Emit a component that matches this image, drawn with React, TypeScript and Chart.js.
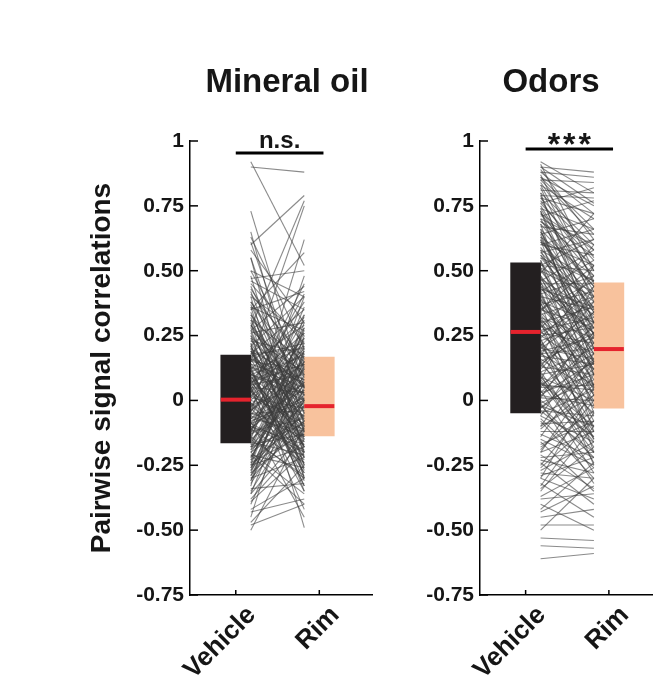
import { useEffect, useRef } from "react";
import { Chart, registerables } from "chart.js";

Chart.register(...registerables);
Chart.defaults.font.family = "'Liberation Sans', Arial, Helvetica, sans-serif";

const GROUPS = ["Vehicle", "Rim"];
const Y_TICKS = [-0.75, -0.5, -0.25, 0, 0.25, 0.5, 0.75, 1];
const Y_TICK_LABELS = ["-0.75", "-0.50", "-0.25", "0", "0.25", "0.50", "0.75", "1"];
const Y_TITLE = "Pairwise signal correlations";
const PANEL_TITLES = ["Mineral oil", "Odors"];
const SIGNIFICANCE = ["n.s.", "***"];

// box stats: [q1, median, q3]
const MO_BOX_VEHICLE = [-0.164, 0.003, 0.175];
const MO_BOX_RIM = [-0.137, -0.022, 0.167];
const OD_BOX_VEHICLE = [-0.048, 0.264, 0.53];
const OD_BOX_RIM = [-0.03, 0.198, 0.453];

// paired values (vehicle -> rim)
const MO_VEHICLE = [
  0.92, 0.9, 0.73, 0.65, 0.63, 0.61, 0.58, 0.55, 0.5, 0.48,
  0.46, 0.44, 0.42, 0.4, 0.38, 0.36, 0.35, 0.33, 0.31, 0.3,
  0.29, 0.27, 0.26, 0.25, 0.24, 0.23, 0.22, 0.21, 0.2, 0.19,
  0.18, 0.17, 0.16, 0.15, 0.14, 0.13, 0.12, 0.11, 0.1, 0.1,
  0.09, 0.08, 0.07, 0.06, 0.05, 0.05, 0.04, 0.03, 0.02, 0.01,
  0.0, -0.01, -0.02, -0.03, -0.04, -0.05, -0.06, -0.07, -0.08, -0.09,
  -0.1, -0.11, -0.12, -0.13, -0.14, -0.15, -0.16, -0.17, -0.18, -0.19,
  -0.2, -0.21, -0.22, -0.23, -0.24, -0.25, -0.26, -0.27, -0.28, -0.29,
  -0.3, -0.31, -0.32, -0.34, -0.36, -0.38, -0.4, -0.43, -0.45, -0.48,
  -0.5, -0.47, 0.6, 0.28, 0.15, -0.05, 0.35, -0.12, 0.22, 0.05,
  -0.2, 0.4, 0.12, -0.08, 0.5, 0.45, 0.32, 0.18, -0.15, -0.25,
  0.08, -0.02, 0.03, -0.09, 0.2, -0.18, 0.26, 0.13, -0.11, 0.07,
  -0.06, 0.16, -0.22, 0.38, -0.3, 0.1, -0.14, 0.0, 0.24, -0.04,
  -0.16, 0.06, -0.27, 0.29, -0.1, 0.14, -0.35, 0.43, -0.01, 0.19,
  -0.19, 0.09, -0.07, 0.02, -0.24, 0.33, -0.13, 0.11, -0.39, 0.55,
  -0.42, 0.04, -0.33, 0.47, -0.21, 0.27, -0.03, 0.21, -0.28, 0.17,
  0.34, -0.17, 0.08, 0.23, -0.26, 0.01, 0.37, -0.09, 0.15, -0.31,
  0.12, -0.04, 0.28, -0.2, 0.06, 0.41, -0.12, 0.19, -0.36, 0.03,
  0.25, -0.07, 0.1, -0.23, 0.31, -0.15, 0.16, -0.02, 0.21, -0.29,
  0.07, -0.11, 0.36, -0.18, 0.13, -0.05, 0.27, -0.25, 0.04, 0.18,
];
const MO_RIM = [
  0.52, 0.88, 0.05, -0.1, 0.2, 0.02, 0.3, -0.05, 0.12, -0.2,
  0.35, 0.0, -0.12, 0.25, 0.1, -0.25, 0.42, -0.05, 0.15, -0.3,
  0.05, -0.15, 0.3, 0.0, -0.2, 0.18, -0.08, 0.4, -0.35, 0.08,
  -0.02, 0.22, -0.18, 0.12, -0.1, 0.05, 0.32, -0.22, 0.0, 0.17,
  -0.06, 0.26, -0.14, 0.1, -0.28, 0.03, 0.45, -0.09, 0.14, -0.03,
  0.2, -0.16, 0.06, -0.24, 0.11, -0.04, 0.28, -0.12, 0.01, 0.16,
  -0.2, 0.07, -0.07, 0.36, -0.3, 0.02, 0.12, -0.13, 0.22, -0.02,
  0.08, -0.26, 0.15, -0.08, 0.3, -0.18, 0.04, 0.19, -0.11, 0.1,
  -0.22, 0.25, 0.0, -0.32, 0.14, -0.15, 0.05, -0.38, 0.2, -0.4,
  -0.1, -0.25, 0.79, 0.77, 0.75, 0.62, 0.57, 0.48, -0.49, -0.42,
  -0.36, -0.3, -0.33, -0.45, 0.4, 0.22, -0.18, 0.35, 0.4, -0.05,
  -0.12, -0.2, 0.24, 0.0, 0.06, -0.09, -0.11, -0.04, 0.09, 0.18,
  -0.14, 0.02, 0.13, 0.05, -0.08, -0.26, 0.27, -0.06, 0.11, 0.15,
  -0.21, 0.38, 0.01, -0.01, -0.17, 0.07, -0.02, 0.13, -0.23, -0.07,
  0.17, -0.15, 0.04, -0.1, -0.13, 0.09, -0.01, 0.21, -0.2, -0.22,
  -0.3, -0.35, 0.33, 0.5, -0.4, 0.44, 0.31, -0.27, 0.18, -0.03,
  -0.12, 0.24, -0.28, 0.05, 0.15, 0.33, -0.08, -0.19, 0.29, 0.07,
  -0.31, 0.19, 0.02, -0.06, -0.22, 0.16, 0.26, -0.16, -0.12, 0.41,
  -0.25, 0.12, 0.03, 0.21, -0.14, -0.29, 0.08, 0.23, -0.18, 0.0,
  0.14, -0.24, 0.27, 0.06, -0.33, -0.11, 0.1, 0.28, -0.17, 0.2,
];

const OD_VEHICLE = [
  0.92, 0.9, 0.89, 0.88, 0.87, 0.86, 0.85, 0.84, 0.83, 0.82,
  0.81, 0.8, 0.79, 0.78, 0.77, 0.76, 0.75, 0.74, 0.73, 0.72,
  0.71, 0.7, 0.69, 0.68, 0.67, 0.66, 0.65, 0.64, 0.63, 0.62,
  0.61, 0.6, 0.59, 0.58, 0.57, 0.56, 0.55, 0.54, 0.53, 0.52,
  0.51, 0.5, 0.49, 0.48, 0.47, 0.46, 0.45, 0.44, 0.43, 0.42,
  0.41, 0.4, 0.39, 0.38, 0.37, 0.36, 0.35, 0.34, 0.33, 0.32,
  0.31, 0.3, 0.29, 0.28, 0.27, 0.26, 0.25, 0.24, 0.23, 0.22,
  0.21, 0.2, 0.19, 0.18, 0.17, 0.16, 0.15, 0.14, 0.13, 0.12,
  0.11, 0.1, 0.09, 0.08, 0.07, 0.06, 0.05, 0.04, 0.03, 0.02,
  0.01, 0.0, -0.01, -0.02, -0.03, -0.04, -0.06, -0.08, -0.1, -0.12,
  -0.14, -0.16, -0.18, -0.2, -0.22, -0.24, -0.26, -0.28, -0.3, -0.32,
  -0.34, -0.37, -0.4, -0.43, -0.45, -0.5, -0.53, -0.56, -0.61, -0.48,
  0.91, 0.86, 0.8, 0.74, 0.7, 0.66, 0.62, 0.58, 0.54, 0.5,
  0.46, 0.42, 0.38, 0.34, 0.3, 0.26, 0.22, 0.18, 0.14, 0.1,
  0.06, 0.02, -0.02, -0.06, -0.1, -0.15, -0.2, -0.25, -0.3, -0.35,
  0.88, 0.83, 0.78, 0.73, 0.68, 0.63, 0.57, 0.52, 0.47, 0.43,
  0.39, 0.35, 0.31, 0.27, 0.23, 0.19, 0.15, 0.11, 0.07, 0.03,
  -0.01, -0.05, -0.09, -0.13, -0.19, -0.23, -0.27, -0.33, -0.38, -0.42,
  0.85, 0.79, 0.72, 0.69, 0.65, 0.61, 0.56, 0.51, 0.48, 0.44,
  0.41, 0.37, 0.33, 0.29, 0.25, 0.21, 0.17, 0.13, 0.09, 0.05,
  0.01, -0.03, -0.07, -0.11, -0.17, -0.21, -0.29, 0.9, 0.76, 0.6,
  0.45, 0.32, 0.2, 0.08, -0.04, 0.55, 0.4, 0.24, 0.64, 0.35,
];
const OD_RIM = [
  0.8, 0.88, 0.62, 0.86, 0.45, 0.75, 0.84, 0.55, 0.7, 0.38,
  0.8, 0.6, 0.3, 0.72, 0.5, 0.82, 0.42, 0.66, 0.2, 0.58,
  0.77, 0.35, 0.52, 0.1, 0.64, 0.44, 0.25, 0.7, 0.48, 0.05,
  0.4, 0.56, 0.3, 0.15, 0.62, 0.36, 0.46, -0.05, 0.28, 0.5,
  0.18, 0.4, 0.72, 0.22, 0.33, -0.12, 0.45, 0.12, 0.26, 0.54,
  0.02, 0.35, 0.2, -0.2, 0.42, 0.15, 0.28, 0.6, 0.08, 0.24,
  -0.08, 0.36, 0.18, 0.48, 0.0, 0.22, 0.12, -0.25, 0.3, 0.05,
  0.4, 0.16, -0.15, 0.2, 0.52, 0.03, 0.26, -0.05, 0.1, 0.34,
  -0.18, 0.14, 0.0, 0.44, -0.1, 0.18, 0.06, -0.28, 0.22, -0.02,
  0.3, -0.14, 0.08, -0.22, 0.12, -0.06, 0.25, -0.3, 0.02, -0.12,
  0.15, -0.35, -0.04, 0.1, -0.2, -0.4, -0.08, -0.3, 0.05, -0.45,
  -0.18, -0.26, -0.5, -0.33, -0.42, -0.3, -0.54, -0.57, -0.59, -0.48,
  0.5, 0.66, 0.25, 0.4, 0.6, 0.14, 0.34, 0.46, 0.1, 0.24,
  0.58, -0.02, 0.3, 0.1, -0.15, 0.38, -0.1, 0.06, 0.28, -0.24,
  0.04, 0.15, -0.1, -0.16, 0.18, -0.25, -0.12, 0.0, -0.38, -0.1,
  0.72, 0.46, 0.58, 0.3, 0.44, 0.22, 0.38, 0.62, 0.18, 0.36,
  0.04, 0.46, 0.14, 0.32, -0.03, 0.24, -0.12, 0.2, -0.2, 0.1,
  -0.32, 0.04, -0.08, -0.22, 0.02, -0.28, -0.16, -0.05, -0.36, -0.24,
  0.64, 0.78, 0.48, 0.56, 0.34, 0.52, 0.28, 0.42, 0.06, 0.3,
  0.48, 0.16, 0.4, 0.06, 0.28, -0.06, 0.14, 0.38, -0.14, 0.26,
  0.0, 0.16, -0.26, 0.06, -0.08, -0.34, -0.22, 0.76, 0.54, 0.66,
  0.26, 0.02, 0.34, -0.16, -0.2, 0.32, 0.12, 0.44, 0.2, 0.52,
];

const BLACK = "#231f20";
const PEACH = "#f8c29d";
const RED = "#e5232d";
const PAIR_LINE = "rgba(60,60,60,0.6)";
const TEXT = "#161616";
const EDGE = 0.18; // half box width in x units

type PanelSpec = {
  title: string;
  sig: string;
  vehicle: number[];
  rim: number[];
  boxVeh: number[];
  boxRim: number[];
  xMin: number;
  xMax: number;
  yWidth: number;
  padRight: number;
  titleX: number;
  bracketY: number;
  sigFont: number;
  sigSpacing: number;
  sigDy: number;
  yTitle: boolean;
};

const decorPlugin = {
  id: "decor",
  afterDraw(chart: any, _args: any, opts: any) {
    const { ctx, chartArea, scales } = chart;
    const xs = scales.x;
    const ys = scales.y;
    ctx.save();
    ctx.strokeStyle = "#000";
    ctx.lineWidth = 1.5;
    for (const v of Y_TICKS) {
      const py = ys.getPixelForValue(v);
      ctx.beginPath();
      ctx.moveTo(chartArea.left, py);
      ctx.lineTo(chartArea.left + 8, py);
      ctx.stroke();
    }
    GROUPS.forEach((_g, i) => {
      const px = xs.getPixelForValue(i + 1);
      ctx.beginPath();
      ctx.moveTo(px, chartArea.bottom);
      ctx.lineTo(px, chartArea.bottom - 5);
      ctx.stroke();
    });
    // significance bracket
    const by = ys.getPixelForValue(opts.bracketY);
    const bx1 = xs.getPixelForValue(1);
    const bx2 = xs.getPixelForValue(2.05);
    ctx.lineWidth = 3;
    ctx.beginPath();
    ctx.moveTo(bx1, by);
    ctx.lineTo(bx2, by);
    ctx.stroke();
    ctx.fillStyle = TEXT;
    ctx.textAlign = "center";
    ctx.textBaseline = "alphabetic";
    ctx.font = `bold ${opts.sigFont}px 'Liberation Sans', Arial, sans-serif`;
    (ctx as any).letterSpacing = `${opts.sigSpacing}px`;
    ctx.fillText(opts.sig, (bx1 + bx2) / 2 + opts.sigSpacing / 2, by + opts.sigDy);
    (ctx as any).letterSpacing = "0px";
    // panel title
    ctx.font = "bold 33px 'Liberation Sans', Arial, sans-serif";
    ctx.fillText(opts.title, opts.titleX, 92);
    ctx.restore();
  },
};

function buildConfig(p: PanelSpec): any {
  const pairs = p.vehicle.map((v, i) => ({
    type: "line",
    data: [
      { x: 1 + EDGE, y: v },
      { x: 2 - EDGE, y: p.rim[i] },
    ],
    borderColor: PAIR_LINE,
    borderWidth: 1.1,
    pointRadius: 0,
    order: 2,
  }));
  const medianLine = (center: number, value: number) => ({
    type: "line",
    data: [
      { x: center - EDGE, y: value },
      { x: center + EDGE, y: value },
    ],
    borderColor: RED,
    borderWidth: 4,
    pointRadius: 0,
    order: 1,
  });
  return {
    type: "bar",
    data: {
      datasets: [
        {
          type: "bar",
          data: [
            { x: 1, y: [p.boxVeh[0], p.boxVeh[2]] },
            { x: 2, y: [p.boxRim[0], p.boxRim[2]] },
          ],
          backgroundColor: [BLACK, PEACH],
          borderWidth: 0,
          barThickness: 30,
          order: 3,
        },
        ...pairs,
        medianLine(1, p.boxVeh[1]),
        medianLine(2, p.boxRim[1]),
      ],
    },
    options: {
      responsive: false,
      maintainAspectRatio: false,
      animation: false,
      events: [],
      layout: { padding: { top: 141, left: 0, right: p.padRight, bottom: 0 } },
      plugins: {
        legend: { display: false },
        tooltip: { enabled: false },
        title: { display: false },
        decor: {
          title: p.title,
          sig: p.sig,
          titleX: p.titleX,
          bracketY: p.bracketY,
          sigFont: p.sigFont,
          sigSpacing: p.sigSpacing,
          sigDy: p.sigDy,
        },
      },
      scales: {
        x: {
          type: "linear",
          min: p.xMin,
          max: p.xMax,
          offset: false,
          grid: { display: false, drawTicks: false },
          border: { display: true, color: "#000", width: 1.5 },
          afterBuildTicks: (s: any) => {
            s.ticks = GROUPS.map((_g, i) => ({ value: i + 1 }));
          },
          afterFit: (s: any) => {
            s.height = 92;
          },
          ticks: {
            autoSkip: false,
            minRotation: 45,
            maxRotation: 45,
            padding: 5,
            labelOffset: 16,
            color: TEXT,
            font: { size: 26, weight: "bold" },
            callback: (v: number) => GROUPS[Math.round(v) - 1] ?? "",
          },
        },
        y: {
          type: "linear",
          min: -0.75,
          max: 1,
          grid: { display: false, drawTicks: false },
          border: { display: true, color: "#000", width: 1.5 },
          afterBuildTicks: (s: any) => {
            s.ticks = Y_TICKS.map((v) => ({ value: v }));
          },
          afterFit: (s: any) => {
            s.width = p.yWidth;
          },
          ticks: {
            padding: 6,
            color: TEXT,
            font: { size: 21, weight: "bold" },
            callback: (_v: number, i: number) => Y_TICK_LABELS[i],
          },
          title: {
            display: p.yTitle,
            text: Y_TITLE,
            color: TEXT,
            font: { size: 28, weight: "bold" },
            padding: { top: 85, bottom: 0 },
          },
        },
      },
    },
    plugins: [decorPlugin],
  };
}

const PANELS: { spec: PanelSpec; left: number; width: number }[] = [
  {
    left: 0,
    width: 380,
    spec: {
      title: PANEL_TITLES[0],
      sig: SIGNIFICANCE[0],
      vehicle: MO_VEHICLE,
      rim: MO_RIM,
      boxVeh: MO_BOX_VEHICLE,
      boxRim: MO_BOX_RIM,
      xMin: 0.452,
      xMax: 2.631,
      yWidth: 190,
      padRight: 8,
      titleX: 287,
      bracketY: 0.954,
      sigFont: 24,
      sigSpacing: 0,
      sigDy: -5,
      yTitle: true,
    },
  },
  {
    left: 380,
    width: 276,
    spec: {
      title: PANEL_TITLES[1],
      sig: SIGNIFICANCE[1],
      vehicle: OD_VEHICLE,
      rim: OD_RIM,
      boxVeh: OD_BOX_VEHICLE,
      boxRim: OD_BOX_RIM,
      xMin: 0.452,
      xMax: 2.518,
      yWidth: 100,
      padRight: 4,
      titleX: 171,
      bracketY: 0.969,
      sigFont: 32,
      sigSpacing: 3,
      sigDy: 6,
      yTitle: false,
    },
  },
];

function Panel({ spec, left, width }: { spec: PanelSpec; left: number; width: number }) {
  const ref = useRef<HTMLCanvasElement>(null);
  useEffect(() => {
    if (!ref.current) return;
    const chart = new Chart(ref.current, buildConfig(spec));
    return () => chart.destroy();
  }, [spec]);
  return (
    <canvas
      ref={ref}
      width={width}
      height={687}
      style={{ position: "absolute", left, top: 0, width, height: 687 }}
    />
  );
}

export default function App() {
  return (
    <div style={{ position: "absolute", left: 0, top: 0, width: 656, height: 687, background: "#fff" }}>
      {PANELS.map((p, i) => (
        <Panel key={i} spec={p.spec} left={p.left} width={p.width} />
      ))}
    </div>
  );
}
